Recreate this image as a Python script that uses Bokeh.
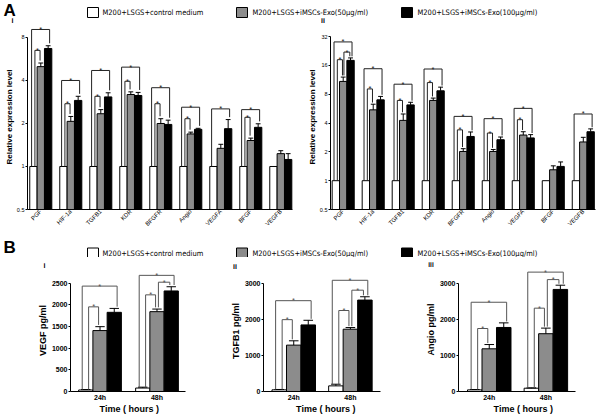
import math
from bokeh.plotting import figure
from bokeh.layouts import column, row
from bokeh.models import Range1d, FixedTicker
from bokeh.core.properties import value
from bokeh.embed import file_html
from bokeh.resources import INLINE

# ---------------- data ----------------
series_names = ["M200+LSGS+control medium",
                "M200+LSGS+iMSCs-Exo(50\u03bcg/ml)",
                "M200+LSGS+iMSCs-Exo(100\u03bcg/ml)"]
series_colors = ["white", "#8c8c8c", "black"]

genes_i = ["PGF", "HIF-1a", "TGFB1", "KDR", "BFGFR", "Angio", "VEGFA", "BFGF", "VEGFB"]
genes_ii = ["PGF", "HIF-1a", "TGFB1", "KDR", "BFGFR", "Angio", "VEGFA", "BFGF", "VEGFB"]

# Panel A-i (relative expression, log2 axis)
ai_ctrl = [1, 1, 1, 1, 1, 1, 1, 1, 1]
ai_ctrl_err = [0, 0, 0, 0, 0, 0, 0, 0, 0]
ai_50 = [5.0, 2.07, 2.34, 3.19, 2.0, 1.69, 1.34, 1.52, 1.23]
ai_50_err = [0.3, 0.17, 0.16, 0.14, 0.16, 0.05, 0.09, 0.06, 0.06]
ai_100 = [6.7, 2.9, 3.07, 3.14, 1.97, 1.82, 1.84, 1.88, 1.12]
ai_100_err = [0.3, 0.2, 0.21, 0.16, 0.14, 0.03, 0.29, 0.11, 0.11]
# significance brackets: (gene index, from series, to series, level)
ai_sig = [(0, 0, 2, 9.1), (0, 0, 1, 6.5), (1, 0, 2, 4.0), (1, 0, 1, 2.75),
          (2, 0, 2, 4.7), (2, 0, 1, 3.1), (3, 0, 2, 4.96), (3, 0, 1, 3.95),
          (4, 0, 2, 3.56), (4, 0, 1, 2.75), (5, 0, 2, 2.6), (5, 0, 1, 2.16),
          (6, 0, 2, 2.53), (7, 0, 2, 2.5), (7, 0, 1, 2.21)]

# Panel A-ii
aii_ctrl = [1, 1, 1, 1, 1, 1, 1, 1, 1]
aii_ctrl_err = [0, 0, 0, 0, 0, 0, 0, 0, 0]
aii_50 = [10.9, 5.5, 4.27, 6.9, 2.02, 2.02, 3.0, 1.3, 2.54]
aii_50_err = [1.2, 0.8, 0.71, 0.4, 0.14, 0.1, 0.25, 0.13, 0.3]
aii_100 = [18.1, 7.0, 6.2, 8.7, 2.9, 2.68, 2.8, 1.41, 3.25]
aii_100_err = [1.1, 0.6, 0.4, 0.8, 0.33, 0.18, 0.23, 0.16, 0.23]
aii_sig = [(0, 0, 2, 28.2), (0, 0, 1, 18.4), (0, 1, 2, 22.1), (1, 0, 2, 14.8),
           (1, 0, 1, 9.1), (2, 0, 2, 10.2), (2, 0, 1, 6.9), (3, 0, 2, 14.7),
           (3, 0, 1, 10.6), (4, 0, 2, 4.7), (4, 0, 1, 3.4), (5, 0, 2, 4.45),
           (5, 0, 1, 3.15), (6, 0, 2, 5.7), (6, 0, 1, 4.34), (8, 0, 2, 4.98)]

# Panel B (pg/ml)
times = ["24h", "48h"]
vegf_ctrl = [35, 80]
vegf_ctrl_err = [10, 20]
vegf_50 = [1406, 1842]
vegf_50_err = [90, 60]
vegf_100 = [1827, 2320]
vegf_100_err = [90, 97]
vegf_sig = [(0, 0, 2, 2432), (0, 0, 1, 1953), (1, 0, 2, 2680), (1, 1, 2, 2522), (1, 0, 1, 2230)]

tgfb1_ctrl = [46, 156]
tgfb1_ctrl_err = [10, 46]
tgfb1_50 = [1284, 1725]
tgfb1_50_err = [120, 46]
tgfb1_100 = [1844, 2532]
tgfb1_100_err = [128, 92]
tgfb1_sig = [(0, 0, 2, 2515), (0, 0, 1, 1990), (1, 0, 2, 3080), (1, 1, 2, 2806), (1, 0, 1, 2243)]

angio_ctrl = [45, 91]
angio_ctrl_err = [10, 10]
angio_50 = [1182, 1600]
angio_50_err = [118, 155]
angio_100 = [1773, 2826]
angio_100_err = [127, 117]
angio_sig = [(0, 0, 2, 2471), (0, 0, 1, 1744), (1, 0, 2, 3305), (1, 1, 2, 3098), (1, 0, 1, 2307)]

# ---------------- helpers ----------------
FONT = "Liberation Sans"
NARROW = "Liberation Sans Narrow, DejaVu Sans Condensed, Liberation Sans"


def panel(width, height, left, right, bottom, xr, yr, log=False):
    p = figure(width=width, height=height, x_range=Range1d(*xr), y_range=Range1d(*yr),
               y_axis_type="log" if log else "linear", output_backend="svg",
               toolbar_location=None, min_border_left=left, min_border_right=right,
               min_border_top=0, min_border_bottom=bottom)
    p.outline_line_color = None
    p.xgrid.grid_line_color = None
    p.ygrid.grid_line_color = None
    for ax in p.axis:
        ax.axis_line_color = "black"
        ax.axis_line_width = 1
        ax.major_tick_line_color = "black"
        ax.minor_tick_line_color = None
        ax.major_tick_in = 0
        ax.major_tick_out = 2
        ax.major_label_standoff = 1
        ax.axis_label_standoff = 1
        ax.major_label_text_font = FONT
        ax.axis_label_text_font = FONT
        ax.axis_label_text_font_style = "bold"
        ax.axis_label_text_color = "black"
        ax.major_label_text_color = "black"
    return p


def bars(p, means, errs, bw, base):
    offs = [-bw, 0, bw]
    n = len(means[0])
    for k in range(3):
        xs = [g + offs[k] for g in range(n)]
        p.vbar(x=xs, top=means[k], bottom=base, width=bw, fill_color=series_colors[k],
               line_color="black", line_width=1)
        sel = [g for g in range(n) if errs[k][g] > 0]
        ex = [xs[g] for g in sel]
        y0 = [means[k][g] for g in sel]
        y1 = [means[k][g] + errs[k][g] for g in sel]
        p.segment(x0=ex, y0=y0, x1=ex, y1=y1, line_color="black", line_width=1)
        p.segment(x0=[x - 0.33 * bw for x in ex], y0=y1, x1=[x + 0.33 * bw for x in ex],
                  y1=y1, line_color="black", line_width=1)


def brackets(p, sig, means, errs, bw, log, color):
    offs = [-bw, 0, bw]
    x0, y0, x1, y1, sx, sy = [], [], [], [], [], []
    for (g, a, b, lvl) in sig:
        if b - a == 2:
            la, lb = -0.25 * bw, 0.2 * bw
        elif a == 0:
            la, lb = 0.2 * bw, -0.1 * bw
        else:
            la, lb = 0.1 * bw, -0.1 * bw
        xa = g + offs[a] + la
        xb = g + offs[b] + lb
        ya = means[a][g] + errs[a][g]
        yb = means[b][g] + errs[b][g]
        if a != 0:
            ya = ya * 1.04 if log else ya + 40
        yb = yb * 1.04 if log else yb + 40
        x0 += [xa, xa, xb]
        y0 += [ya, lvl, lvl]
        x1 += [xa, xb, xb]
        y1 += [lvl, lvl, yb]
        sx.append((xa + xb) / 2)
        sy.append(lvl)
    p.segment(x0=x0, y0=y0, x1=x1, y1=y1, line_color=color, line_width=1)
    p.text(x=sx, y=sy, text=["*"] * len(sx), text_align="center", text_baseline="alphabetic",
           text_font=value(FONT), text_font_size="7.5px", text_color=color)


def blank(width, height, y_top, y_bottom, x0=0):
    s = figure(width=width, height=height, x_range=Range1d(x0, x0 + width),
               y_range=Range1d(y_bottom, y_top), output_backend="svg", toolbar_location=None,
               min_border=0, x_axis_location=None, y_axis_location=None)
    s.outline_line_color = None
    s.xgrid.grid_line_color = None
    s.ygrid.grid_line_color = None
    return s


def sub_text(s, t, x, y, size="7px"):
    s.text(x=[x], y=[y], text=[t], text_font=value(FONT), text_font_size=size,
           text_font_style="bold", text_baseline="middle", text_align="center",
           text_color="black")


def legend_strip(y_top, y_bottom, letter, letter_y, leg_y, subs):
    s = blank(600, y_bottom - y_top, y_top, y_bottom)
    s.text(x=[3], y=[letter_y], text=[letter], text_font=value(FONT), text_font_size="17px",
           text_font_style="bold", text_baseline="middle", text_align="left", text_color="black")
    s.rect(x=[92.5, 241.5, 406.5], y=[leg_y] * 3, width=11, height=10,
           fill_color=series_colors, line_color="black", line_width=1)
    s.text(x=[102, 252, 417], y=[leg_y] * 3, text=series_names, text_font=value(NARROW),
           text_font_size="7.5px", text_baseline="middle", text_align="left", text_color="black")
    for (t, x, y) in subs:
        sub_text(s, t, x, y)
    return s


def sub_strip(x0, y_top, y_bottom, t, x, y, size="7px"):
    s = blank(200, y_bottom - y_top, y_top, y_bottom, x0=x0)
    sub_text(s, t, x, y, size)
    return s


stripA = legend_strip(0, 24, "A", 9.5, 12, [("i", 12, 19.5), ("ii", 322.5, 19.5)])
stripB = legend_strip(237, 257, "B", 247, 252.5, [])

# ---------------- panel A ----------------
def a_panel(means, errs, sig, genes, xr, yr, ticks, left, right):
    p = panel(300, 213, left, right, 28, xr, yr, log=True)
    bw = 0.245
    bars(p, means, errs, bw, 0.5)
    brackets(p, sig, means, errs, bw, True, "#222222")
    p.yaxis.ticker = FixedTicker(ticks=ticks)
    p.yaxis.major_label_overrides = {t: ("%g" % t) for t in ticks}
    p.yaxis.bounds = (ticks[0], ticks[-1])
    p.yaxis.major_label_text_font_size = "5.5px"
    p.yaxis.axis_label = "Relative expression level"
    p.yaxis.axis_label_text_font_size = "8px"
    p.yaxis.axis_label_standoff = 0
    p.xaxis.ticker = FixedTicker(ticks=list(range(len(genes))))
    p.xaxis.major_label_overrides = {i: g for i, g in enumerate(genes)}
    p.xaxis.major_label_orientation = math.pi / 4
    p.xaxis.major_label_text_font_size = "6px"
    p.xaxis.major_tick_out = 0
    p.xaxis.bounds = (xr[0], 8.4)
    return p


fa1 = a_panel([ai_ctrl, ai_50, ai_100], [ai_ctrl_err, ai_50_err, ai_100_err], ai_sig, genes_i,
              (-0.443, 8.49), (0.5, 9.86), [0.5, 1, 2, 4, 8], 27, 5)
fa2 = a_panel([aii_ctrl, aii_50, aii_100], [aii_ctrl_err, aii_50_err, aii_100_err], aii_sig, genes_ii,
              (-0.423, 8.44), (0.5, 42.9), [0.5, 1, 2, 4, 8, 16, 32], 30, 4)

# ---------------- panel B ----------------
def b_panel(height, bottom, means, errs, sig, xr, yr, ticks, left, bw, xb, ylabel):
    p = panel(200, height, left, 10, bottom, xr, yr)
    bars(p, means, errs, bw, 0)
    brackets(p, sig, means, errs, bw, False, "#555555")
    p.yaxis.ticker = FixedTicker(ticks=ticks)
    p.yaxis.bounds = (ticks[0], ticks[-1])
    p.yaxis.major_label_text_font_size = "7px"
    p.yaxis.major_label_text_font_style = "bold"
    p.yaxis.axis_label = ylabel
    p.yaxis.axis_label_text_font_size = "9px"
    p.yaxis.axis_label_standoff = 1
    p.xaxis.ticker = FixedTicker(ticks=[0, 1])
    p.xaxis.major_label_overrides = {0: times[0], 1: times[1]}
    p.xaxis.major_label_text_font_size = "7px"
    p.xaxis.major_label_text_font_style = "bold"
    p.xaxis.major_tick_out = 0
    p.xaxis.major_label_standoff = 2
    p.xaxis.bounds = (xr[0], xb)
    p.xaxis.axis_label = "Time  ( hours )"
    p.xaxis.axis_label_text_font_size = "9px"
    p.xaxis.axis_label_standoff = 0
    return p


fb1 = b_panel(147, 22, [vegf_ctrl, vegf_50, vegf_100], [vegf_ctrl_err, vegf_50_err, vegf_100_err],
              vegf_sig, (-0.518, 1.588), (0, 2815), [0, 500, 1000, 1500, 2000, 2500], 70, 0.25, 1.5,
              "VEGF pg/ml")
fb2 = b_panel(146, 23, [tgfb1_ctrl, tgfb1_50, tgfb1_100], [tgfb1_ctrl_err, tgfb1_50_err, tgfb1_100_err],
              tgfb1_sig, (-0.534, 1.708), (0, 3351), [0, 1000, 2000, 3000], 63, 0.256, 1.53,
              "TGFB1 pg/ml")
fb3 = b_panel(149, 23, [angio_ctrl, angio_50, angio_100], [angio_ctrl_err, angio_50_err, angio_100_err],
              angio_sig, (-0.543, 1.788), (0, 3433), [0, 1000, 2000, 3000], 58, 0.256, 1.52,
              "Angio pg/ml")

sb1 = sub_strip(0, 257, 269, "i", 44, 264.5)
sb2 = sub_strip(200, 257, 270, "ii", 234.5, 265.5)
sb3 = sub_strip(400, 257, 267, "iii", 430.5, 262, "6.5px")

# wrap strips in rows so their frames are not aligned with the panels below
layout = column(stripA,
                row(fa1, fa2, spacing=0),
                stripB,
                row(column(row(sb1), row(fb1), spacing=0),
                    column(row(sb2), row(fb2), spacing=0),
                    column(row(sb3), row(fb3), spacing=0), spacing=0),
                spacing=0)

open("out.html", "w").write(file_html(layout, INLINE))
